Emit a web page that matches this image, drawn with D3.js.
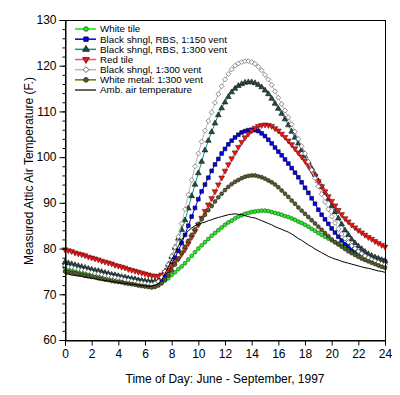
<!DOCTYPE html>
<html>
<head>
<meta charset="utf-8">
<script src="https://cdn.jsdelivr.net/npm/d3@7"></script>
<style>
    body { margin: 0; background: #fff; }
    svg { display: block; font-family: "Liberation Sans", Arial, sans-serif; }
</style>
</head>
<body>
<div id="chart-container"></div>
<script>
// Readings every 15 minutes, 0 to 24 h
const hours = d3.range(0, 24.001, 0.25)

const whiteTile = [
    75.8, 75.6, 75.5, 75.3, 75.2, 75.0, 74.9, 74.7, 74.6, 74.5, 74.4, 74.2,
    74.1, 74.0, 73.8, 73.7, 73.6, 73.5, 73.4, 73.3, 73.2, 73.1, 73.0, 72.9,
    72.8, 72.7, 72.7, 72.6, 72.6, 72.7, 73.0, 73.5, 74.2, 74.8, 75.5, 76.1,
    76.8, 77.6, 78.4, 79.2, 80.0, 80.7, 81.4, 82.1, 82.8, 83.4, 84.0, 84.6,
    85.2, 85.7, 86.1, 86.6, 87.0, 87.3, 87.6, 87.8, 88.0, 88.1, 88.2, 88.3,
    88.3, 88.2, 88.0, 87.8, 87.6, 87.4, 87.1, 86.9, 86.6, 86.3, 85.9, 85.6,
    85.2, 84.8, 84.3, 83.9, 83.4, 83.0, 82.6, 82.2, 81.8, 81.4, 81.1, 80.7,
    80.4, 80.0, 79.7, 79.3, 79.0, 78.7, 78.4, 78.1, 77.8, 77.5, 77.3, 77.0,
    76.8
]
const blackRbs150 = [
    76.5, 76.3, 76.2, 76.0, 75.8, 75.6, 75.5, 75.3, 75.1, 74.9, 74.8, 74.6,
    74.4, 74.3, 74.1, 74.0, 73.8, 73.6, 73.5, 73.3, 73.2, 73.0, 72.9, 72.7,
    72.6, 72.5, 72.4, 72.4, 72.6, 73.1, 74.0, 75.1, 76.5, 78.0, 79.5, 81.2,
    83.0, 85.0, 87.0, 88.9, 90.8, 92.5, 94.0, 95.5, 97.0, 98.4, 99.6, 100.8,
    101.8, 102.8, 103.6, 104.3, 104.9, 105.4, 105.7, 105.9, 106.0, 105.9, 105.7, 105.2,
    104.6, 103.8, 103.0, 102.1, 101.2, 100.4, 99.5, 98.6, 97.6, 96.6, 95.6, 94.5,
    93.3, 92.2, 91.0, 89.8, 88.5, 87.4, 86.4, 85.4, 84.4, 83.5, 82.6, 81.8,
    81.0, 80.5, 80.0, 79.6, 79.3, 78.9, 78.6, 78.3, 78.0, 77.8, 77.6, 77.4,
    77.2
]
const blackRbs300 = [
    77.0, 76.8, 76.6, 76.4, 76.2, 76.0, 75.8, 75.6, 75.4, 75.2, 75.1, 74.9,
    74.7, 74.5, 74.3, 74.2, 74.0, 73.8, 73.7, 73.5, 73.4, 73.3, 73.1, 73.0,
    72.9, 72.8, 72.7, 72.8, 73.0, 73.8, 75.0, 76.5, 78.2, 80.2, 82.2, 84.1,
    86.2, 88.8, 91.5, 94.0, 96.5, 99.0, 101.5, 103.6, 105.5, 107.4, 109.2, 110.7,
    112.0, 113.2, 114.2, 115.0, 115.6, 116.0, 116.3, 116.4, 116.4, 116.2, 115.8, 115.3,
    114.6, 113.8, 112.8, 111.7, 110.6, 109.5, 108.3, 107.0, 105.6, 104.3, 103.0, 101.6,
    100.2, 98.9, 97.5, 96.2, 94.8, 93.5, 92.2, 90.8, 89.3, 88.0, 86.6, 85.3,
    84.0, 83.0, 82.0, 81.2, 80.5, 79.9, 79.3, 78.8, 78.4, 78.1, 77.8, 77.5,
    77.3
]
const redTile = [
    79.8, 79.6, 79.4, 79.1, 78.9, 78.7, 78.5, 78.2, 78.0, 77.8, 77.6, 77.3,
    77.1, 76.9, 76.7, 76.4, 76.2, 76.0, 75.8, 75.5, 75.3, 75.1, 74.9, 74.7,
    74.5, 74.3, 74.1, 74.0, 74.0, 74.3, 74.8, 75.4, 76.2, 77.0, 77.8, 78.8,
    79.8, 81.1, 82.5, 83.8, 85.2, 86.7, 88.2, 89.6, 91.0, 92.5, 94.0, 95.5,
    97.0, 98.4, 99.7, 101.0, 102.2, 103.3, 104.3, 105.1, 105.8, 106.4, 106.8, 107.0,
    107.1, 107.0, 106.8, 106.3, 105.8, 105.1, 104.4, 103.6, 102.8, 101.9, 101.0, 100.1,
    99.2, 98.1, 97.0, 95.9, 94.7, 93.6, 92.5, 91.4, 90.4, 89.4, 88.4, 87.5,
    86.6, 85.9, 85.2, 84.6, 84.0, 83.5, 83.0, 82.5, 82.1, 81.6, 81.2, 80.8,
    80.4
]
const blackShngl300 = [
    76.2, 76.0, 75.9, 75.7, 75.5, 75.3, 75.2, 75.0, 74.8, 74.6, 74.5, 74.3,
    74.1, 74.0, 73.8, 73.7, 73.5, 73.4, 73.2, 73.1, 72.9, 72.8, 72.6, 72.5,
    72.4, 72.3, 72.2, 72.4, 72.8, 73.7, 75.0, 76.5, 78.3, 80.3, 82.6, 85.5,
    88.6, 91.8, 95.0, 98.0, 100.8, 103.4, 105.8, 107.9, 109.8, 111.9, 113.8, 115.5,
    117.0, 118.2, 119.2, 120.0, 120.5, 120.8, 121.0, 121.0, 120.8, 120.4, 119.8, 119.0,
    118.0, 117.0, 115.8, 114.4, 113.0, 111.6, 110.2, 108.7, 107.2, 105.6, 104.0, 102.4,
    100.8, 99.0, 97.2, 95.4, 93.6, 91.9, 90.2, 88.6, 87.0, 85.6, 84.3, 83.2,
    82.2, 81.4, 80.6, 80.0, 79.4, 78.9, 78.4, 78.0, 77.6, 77.3, 77.0, 76.7,
    76.5
]
const whiteMetal300 = [
    75.0, 74.9, 74.7, 74.6, 74.4, 74.3, 74.1, 74.0, 73.8, 73.7, 73.5, 73.4,
    73.2, 73.1, 72.9, 72.8, 72.7, 72.6, 72.4, 72.3, 72.2, 72.1, 71.9, 71.8,
    71.7, 71.6, 71.5, 71.6, 71.9, 72.4, 73.2, 74.1, 75.2, 76.5, 77.8, 79.1,
    80.4, 81.7, 83.0, 84.2, 85.4, 86.4, 87.4, 88.4, 89.3, 90.3, 91.2, 92.0,
    92.8, 93.5, 94.1, 94.6, 95.0, 95.4, 95.7, 95.9, 96.0, 96.0, 95.8, 95.6,
    95.3, 94.9, 94.5, 94.0, 93.4, 92.7, 92.0, 91.3, 90.5, 89.8, 89.0, 88.3,
    87.6, 86.9, 86.2, 85.5, 84.8, 84.1, 83.4, 82.7, 82.0, 81.4, 80.9, 80.4,
    79.9, 79.4, 79.0, 78.6, 78.2, 77.8, 77.5, 77.2, 76.9, 76.6, 76.3, 76.0,
    75.8
]
const ambient = [
    74.5, 74.4, 74.2, 74.1, 74.0, 73.9, 73.7, 73.6, 73.5, 73.4, 73.2, 73.1,
    73.0, 72.9, 72.8, 72.7, 72.6, 72.5, 72.4, 72.3, 72.2, 72.1, 72.0, 71.9,
    71.8, 71.7, 71.8, 72.0, 72.3, 73.2, 74.5, 76.0, 77.5, 79.0, 80.5, 81.9,
    83.0, 83.9, 84.5, 85.0, 85.3, 85.6, 85.8, 86.1, 86.3, 86.6, 86.8, 87.0,
    87.2, 87.4, 87.5, 87.6, 87.5, 87.4, 87.2, 87.0, 86.8, 86.7, 86.4, 86.1,
    85.8, 85.5, 85.2, 84.8, 84.5, 84.2, 83.9, 83.6, 83.2, 82.7, 82.2, 81.8,
    81.3, 80.8, 80.4, 79.9, 79.5, 79.1, 78.7, 78.3, 78.0, 77.7, 77.5, 77.2,
    77.0, 76.8, 76.6, 76.4, 76.2, 76.0, 75.8, 75.7, 75.5, 75.3, 75.1, 75.0,
    74.8
]

const seriesNames = [
    'White tile',
    'Black shngl, RBS, 1:150 vent',
    'Black shngl, RBS, 1:300 vent',
    'Red tile',
    'Black shngl, 1:300 vent',
    'White metal: 1:300 vent',
    'Amb. air temperature'
]
const seriesValues = [whiteTile, blackRbs150, blackRbs300, redTile, blackShngl300, whiteMetal300, ambient]

const xTicks = [0, 2, 4, 6, 8, 10, 12, 14, 16, 18, 20, 22, 24]
const yTicks = [60, 70, 80, 90, 100, 110, 120, 130]
const xTitle = 'Time of Day: June - September, 1997'
const yTitle = 'Measured Attic Air Temperature (F.)'

// look of each series, same order as seriesNames
const styles = [
    { line: '#00ee00', marker: 'circle', fill: '#22ee22', stroke: '#1a5a1a' },
    { line: '#0000cc', marker: 'square', fill: '#0000ff', stroke: '#000022' },
    { line: '#009a8a', marker: 'triUp', fill: '#2a4a48', stroke: '#101010' },
    { line: '#ff5050', marker: 'triDown', fill: '#ff1010', stroke: '#501010' },
    { line: '#b8b8b8', marker: 'diamond', fill: '#ffffff', stroke: '#505050' },
    { line: '#707000', marker: 'circle', fill: '#5a5a30', stroke: '#202010' },
    { line: '#000000', marker: null }
]

class AtticTempPlotter {
    constructor(options) {
        this.width = options.width
        this.height = options.height
        this.series = seriesNames.map((name, i) => ({
            name: name,
            style: styles[i],
            points: hours.map((h, j) => ({ h: h, v: seriesValues[i][j] }))
        }))

        this.x = d3.scaleLinear().domain([0, 24]).range([65, 385])
        this.y = d3.scaleLinear().domain([60, 130]).range([340, 20])

        this.svg = d3.select('#chart-container')
            .append('svg')
            .attr('width', this.width)
            .attr('height', this.height)
    }

    plot() {
        this.#drawSeries()
        this.#drawAxes()
        this.#drawLegend()
    }

    #symbol(kind, scale = 1) {
        if (kind === 'circle') return { d: d3.symbol(d3.symbolCircle, 12 * scale)(), rot: 0 }
        if (kind === 'square') return { d: d3.symbol(d3.symbolSquare, 14 * scale)(), rot: 0 }
        if (kind === 'triUp') return { d: d3.symbol(d3.symbolTriangle, 14 * scale)(), rot: 0 }
        if (kind === 'triDown') return { d: d3.symbol(d3.symbolTriangle, 14 * scale)(), rot: 180 }
        return { d: d3.symbol(d3.symbolSquare, 12 * scale)(), rot: 45 }
    }

    #drawSeries() {
        const line = d3.line().x(d => this.x(d.h)).y(d => this.y(d.v))

        this.series.forEach(s => {
            const g = this.svg.append('g')
            g.append('path')
                .datum(s.points)
                .attr('d', line)
                .attr('fill', 'none')
                .attr('stroke', s.style.line)
                .attr('stroke-width', 1)

            if (!s.style.marker) return
            const sym = this.#symbol(s.style.marker)
            g.selectAll('path.mark')
                .data(s.points)
                .enter()
                .append('path')
                .attr('class', 'mark')
                .attr('d', sym.d)
                .attr('transform', d => 'translate(' + this.x(d.h) + ',' + this.y(d.v) + ') rotate(' + sym.rot + ')')
                .attr('fill', s.style.fill)
                .attr('stroke', s.style.stroke)
                .attr('stroke-width', 0.6)
        })
    }

    #drawAxes() {
        // frame
        this.svg.append('rect')
            .attr('x', 65.5).attr('y', 20.5)
            .attr('width', 320).attr('height', 320)
            .attr('fill', 'none')
            .attr('stroke', 'black')

        const minorY = this.svg.append('g')
            .attr('transform', 'translate(65.5,0)')
            .call(d3.axisLeft(this.y).tickValues(d3.range(60, 131, 2)).tickSize(3).tickFormat(''))
        minorY.select('.domain').remove()

        const yAxis = this.svg.append('g')
            .attr('transform', 'translate(65.5,0)')
            .call(d3.axisLeft(this.y).tickValues(yTicks).tickSize(6).tickPadding(3))

        const xAxis = this.svg.append('g')
            .attr('transform', 'translate(0,340.5)')
            .call(d3.axisBottom(this.x).tickValues(xTicks).tickSize(5).tickPadding(4))

        ;[yAxis, xAxis].forEach(ax => {
            ax.attr('font-family', '"Liberation Sans", Arial, sans-serif')
                .attr('font-size', 12)
            ax.selectAll('text').attr('fill', '#000')
        })

        this.svg.append('text')
            .attr('x', 225)
            .attr('y', 383)
            .attr('text-anchor', 'middle')
            .attr('font-size', 12)
            .text(xTitle)

        this.svg.append('text')
            .attr('transform', 'translate(33,171) rotate(-90)')
            .attr('text-anchor', 'middle')
            .attr('font-size', 12)
            .text(yTitle)
    }

    #drawLegend() {
        const rowStart = 29
        const rowStep = 10.17

        let legend = this.svg.append('g').attr('id', 'legend')

        this.series.forEach((s, i) => {
            const ry = rowStart + i * rowStep
            legend.append('line')
                .attr('x1', 75).attr('x2', 96)
                .attr('y1', ry).attr('y2', ry)
                .attr('stroke', s.style.line)
                .attr('stroke-width', s.style.marker ? 1.5 : 1.2)
            if (s.style.marker) {
                const sym = this.#symbol(s.style.marker, 1.4)
                legend.append('path')
                    .attr('d', sym.d)
                    .attr('transform', 'translate(86,' + ry + ') rotate(' + sym.rot + ')')
                    .attr('fill', s.style.fill)
                    .attr('stroke', s.style.stroke)
                    .attr('stroke-width', 0.8)
            }
            legend.append('text')
                .attr('x', 100)
                .attr('y', ry + 3.4)
                .attr('font-size', 9.8)
                .text(s.name)
        })
    }
}

const plotter = new AtticTempPlotter({ width: 400, height: 395 })
plotter.plot()
</script>
</body>
</html>
